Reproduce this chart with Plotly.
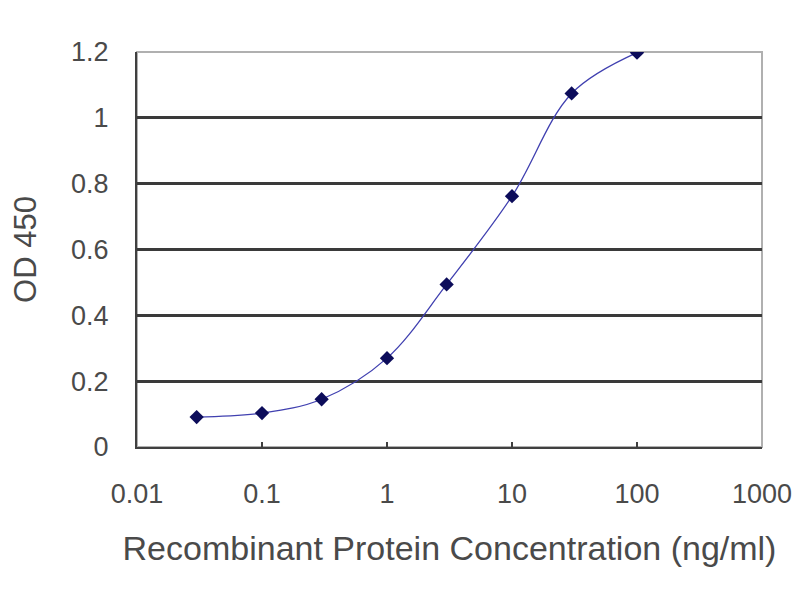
import plotly.graph_objects as go

# ELISA standard curve
conc_ng_ml = [0.03, 0.1, 0.3, 1, 3, 10, 30, 100]
od450 = [0.091, 0.103, 0.145, 0.27, 0.494, 0.762, 1.074, 1.198]

x_tick_vals = [0.01, 0.1, 1, 10, 100, 1000]
x_tick_text = ['0.01', '0.1', '1', '10', '100', '1000']
y_tick_vals = [0, 0.2, 0.4, 0.6, 0.8, 1, 1.2]
y_tick_text = ['0', '0.2', '0.4', '0.6', '0.8', '1', '1.2']

FONT = 'Liberation Sans, Arial, sans-serif'
TEXT_COLOR = '#4a4a4a'

fig = go.Figure()

fig.add_trace(go.Scatter(
    x=conc_ng_ml, y=od450,
    mode='lines+markers',
    line=dict(color='#4040b0', width=1.3, shape='spline', smoothing=1.0),
    marker=dict(symbol='diamond', size=11, color='#0c0c5a'),
    showlegend=False,
))

# light gray frame (top / right), darker axis lines drawn on top by the axes
fig.add_shape(type='rect', xref='paper', yref='paper', x0=0, y0=0, x1=1, y1=1,
              line=dict(color='#b0b0b0', width=2), layer='below')

fig.update_xaxes(
    type='log', range=[-2, 3], automargin=False,
    tickvals=x_tick_vals, ticktext=x_tick_text,
    ticks='inside', ticklen=5, tickwidth=1.5, tickcolor='#404040',
    showgrid=False, zeroline=False,
    showline=True, linecolor='#404040', linewidth=2,
    tickfont=dict(family=FONT, size=27, color=TEXT_COLOR),
    ticklabelstandoff=22,
    title=dict(text='Recombinant Protein Concentration (ng/ml)',
               font=dict(family=FONT, size=34, color=TEXT_COLOR), standoff=28),
)
fig.update_yaxes(
    range=[0, 1.2], automargin=False,
    tickvals=y_tick_vals, ticktext=y_tick_text,
    ticks='', showgrid=True, gridcolor='#3a3a3a', gridwidth=2.5,
    zeroline=False,
    showline=True, linecolor='#404040', linewidth=2,
    tickfont=dict(family=FONT, size=27, color=TEXT_COLOR),
    ticklabelstandoff=21,
    title=dict(text='OD 450', font=dict(family=FONT, size=31, color=TEXT_COLOR), standoff=47),
)

fig.update_layout(
    width=800, height=600,
    paper_bgcolor='white', plot_bgcolor='white',
    margin=dict(l=129, r=46, t=44, b=161),
)

fig.write_html("out.html")
